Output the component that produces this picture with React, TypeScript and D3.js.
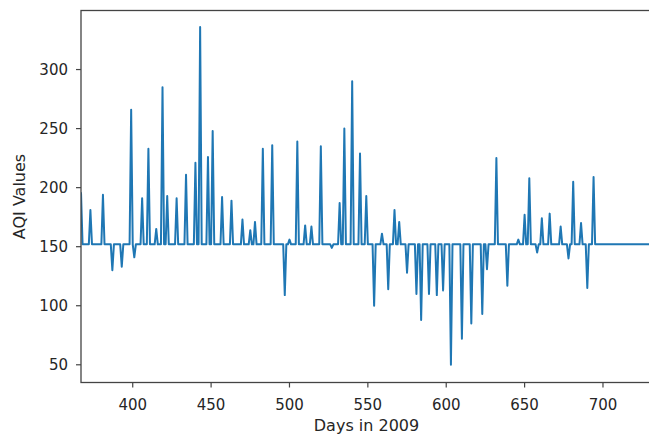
import React from "react";
import * as d3 from "d3";

// Day numbers where the AQI departs from its flat baseline, and the values there
const spikeDays = [367, 373, 381, 387, 393, 399, 401, 406, 410, 415, 419, 422, 428, 434, 440, 443, 448, 451, 457, 463, 470, 475, 478, 483, 489, 497, 500, 505, 510, 514, 520, 527, 532, 535, 540, 545, 549, 554, 559, 563, 567, 570, 575, 581, 584, 589, 594, 598, 603, 610, 616, 623, 626, 632, 639, 646, 650, 653, 658, 661, 666, 673, 678, 681, 686, 690, 694];
const spikeValues = [196, 181, 194, 130, 133, 266, 141, 191, 233, 165, 285, 193, 191, 211, 221, 336, 226, 248, 192, 189, 173, 164, 171, 233, 236, 109, 156, 239, 168, 167, 235, 149, 187, 250, 290, 229, 193, 100, 161, 114, 181, 171, 128, 110, 88, 110, 109, 113, 50, 72, 85, 93, 131, 225, 117, 156, 177, 208, 145, 174, 178, 167, 140, 205, 170, 115, 209];
const baselineAQI = 152;
const firstDay = 367;
const lastDay = 730;

const xTicks = [400, 450, 500, 550, 600, 650, 700];
const yTicks = [50, 100, 150, 200, 250, 300];

const W = 649;
const H = 437;
const left = 81;
const right = 650;
const top = 10.5;
const bottom = 382.5;

export default function App() {
  const spikeMap = new Map<number, number>();
  spikeDays.forEach((d, i) => spikeMap.set(d, spikeValues[i]));
  const series = d3.range(firstDay, lastDay + 1).map((d) => ({
    day: d,
    value: spikeMap.has(d) ? (spikeMap.get(d) as number) : baselineAQI,
  }));

  const x = d3.scaleLinear().domain([firstDay, lastDay]).range([left, right]);
  const y = d3.scaleLinear().domain([35, 350]).range([bottom, top]);

  const line = d3
    .line<{ day: number; value: number }>()
    .x((d) => x(d.day))
    .y((d) => y(d.value));

  const font = "'DejaVu Sans', sans-serif";
  const txt = "#262626";

  return (
    <svg
      width={W}
      height={H}
      style={{ position: "absolute", left: 0, top: 0, background: "#fff" }}
    >
      <defs>
        <clipPath id="plotclip">
          <rect x={left} y={top} width={right - left} height={bottom - top} />
        </clipPath>
      </defs>
      <path
        d={line(series) || ""}
        fill="none"
        stroke="#1f77b4"
        strokeWidth={2}
        strokeLinejoin="round"
        clipPath="url(#plotclip)"
      />
      {/* spines */}
      <rect
        x={left}
        y={top}
        width={right - left}
        height={bottom - top}
        fill="none"
        stroke="#444"
        strokeWidth={1.3}
      />
      {xTicks.map((t) => (
        <g key={"x" + t}>
          <line x1={x(t)} x2={x(t)} y1={bottom} y2={bottom + 5} stroke="#444" strokeWidth={1.2} />
          <text
            x={x(t)}
            y={410}
            textAnchor="middle"
            fontFamily={font}
            fontSize={15}
            fill={txt}
          >
            {t}
          </text>
        </g>
      ))}
      {yTicks.map((t) => (
        <g key={"y" + t}>
          <line x1={left - 5} x2={left} y1={y(t)} y2={y(t)} stroke="#444" strokeWidth={1.2} />
          <text
            x={68}
            y={y(t)}
            dy="0.36em"
            textAnchor="end"
            fontFamily={font}
            fontSize={15}
            fill={txt}
          >
            {t}
          </text>
        </g>
      ))}
      <text
        x={(left + right) / 2 + 1}
        y={431}
        textAnchor="middle"
        fontFamily={font}
        fontSize={16}
        fill={txt}
      >
        Days in 2009
      </text>
      <text
        transform={`translate(25, ${(top + bottom) / 2}) rotate(-90)`}
        textAnchor="middle"
        fontFamily={font}
        fontSize={16}
        fill={txt}
      >
        AQI Values
      </text>
    </svg>
  );
}
